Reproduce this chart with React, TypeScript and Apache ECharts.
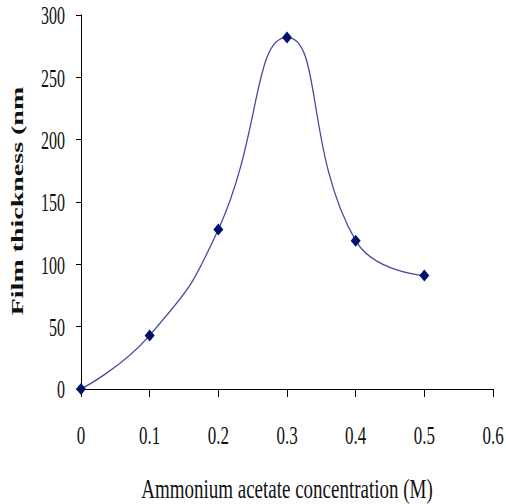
import React, { useEffect, useRef } from "react";
import * as echarts from "echarts";

const concentration = [0, 0.1, 0.2, 0.3, 0.4, 0.5];
const thickness = [0, 43, 128, 282, 119, 91];
const xTickValues = [0, 0.1, 0.2, 0.3, 0.4, 0.5, 0.6];
const xTickLabels = ["0", "0.1", "0.2", "0.3", "0.4", "0.5", "0.6"];
const yTickValues = [0, 50, 100, 150, 200, 250, 300];
const yTickLabels = ["0", "50", "100", "150", "200", "250", "300"];
const xAxisTitle = "Ammonium acetate concentration (M)";
const yAxisTitle = "Film thickness (nm";

export default function App() {
  const ref = useRef<HTMLDivElement>(null);
  useEffect(() => {
    if (!ref.current) return;
    const chart = echarts.init(ref.current, undefined, { renderer: "svg" });
    const font = "'Liberation Serif', 'Times New Roman', serif";
    chart.setOption({
      animation: false,
      backgroundColor: "#ffffff",
      grid: { left: 81, right: 13, top: 15, bottom: 115 },
      xAxis: {
        type: "value",
        min: 0,
        max: 0.6,
        interval: 0.1,
        axisLine: { lineStyle: { color: "#000", width: 1 } },
        axisTick: { show: true, length: 8, lineStyle: { color: "#000" } },
        axisLabel: { show: false },
        splitLine: { show: false },
      },
      yAxis: {
        type: "value",
        min: 0,
        max: 300,
        interval: 50,
        axisLine: { show: true, lineStyle: { color: "#000", width: 1 } },
        axisTick: { show: true, length: 5, lineStyle: { color: "#000" } },
        axisLabel: { show: false },
        splitLine: { show: false },
      },
      series: [
        {
          type: "line",
          data: concentration.map((c, i) => [c, thickness[i]]),
          smooth: 0.5,
          symbol: "diamond",
          symbolSize: [10, 12],
          itemStyle: { color: "#00106e" },
          lineStyle: { color: "#4848a0", width: 1.3 },
        },
      ],
    });

    const graphics: any[] = [];
    xTickValues.forEach((v, i) => {
      const p = chart.convertToPixel({ gridIndex: 0 }, [v, 0]) as number[];
      graphics.push({
        type: "text",
        x: p[0],
        y: p[1] + 47,
        scaleY: 1.5,
        style: {
          text: xTickLabels[i],
          fontFamily: font,
          fontSize: 17,
          fill: "#111",
          textAlign: "center",
          textVerticalAlign: "middle",
          verticalAlign: "middle",
        },
      });
    });
    yTickValues.forEach((v, i) => {
      const p = chart.convertToPixel({ gridIndex: 0 }, [0, v]) as number[];
      graphics.push({
        type: "text",
        x: p[0] - 16,
        y: p[1] + 1,
        scaleY: 1.6,
        style: {
          text: yTickLabels[i],
          fontFamily: font,
          fontSize: 16,
          fill: "#111",
          textAlign: "right",
          textVerticalAlign: "middle",
          verticalAlign: "middle",
        },
      });
    });
    const gridMid = chart.convertToPixel({ gridIndex: 0 }, [0.3, 150]) as number[];
    graphics.push({
      type: "text",
      x: gridMid[0],
      y: 489,
      scaleY: 1.45,
      style: {
        text: xAxisTitle,
        fontFamily: font,
        fontSize: 19,
        fill: "#111",
        textAlign: "center",
        textVerticalAlign: "middle",
        verticalAlign: "middle",
      },
    });
    graphics.push({
      type: "text",
      x: 17,
      y: gridMid[1] - 1,
      rotation: Math.PI / 2,
      scaleX: 1.6,
      style: {
        text: yAxisTitle,
        fontFamily: font,
        fontSize: 17.5,
        fontWeight: "bold",
        fill: "#111",
        textAlign: "center",
        textVerticalAlign: "middle",
        verticalAlign: "middle",
      },
    });
    chart.setOption({ graphic: graphics });
    return () => chart.dispose();
  }, []);
  return (
    <div
      ref={ref}
      style={{ position: "fixed", left: 0, top: 0, width: 506, height: 504 }}
    />
  );
}
